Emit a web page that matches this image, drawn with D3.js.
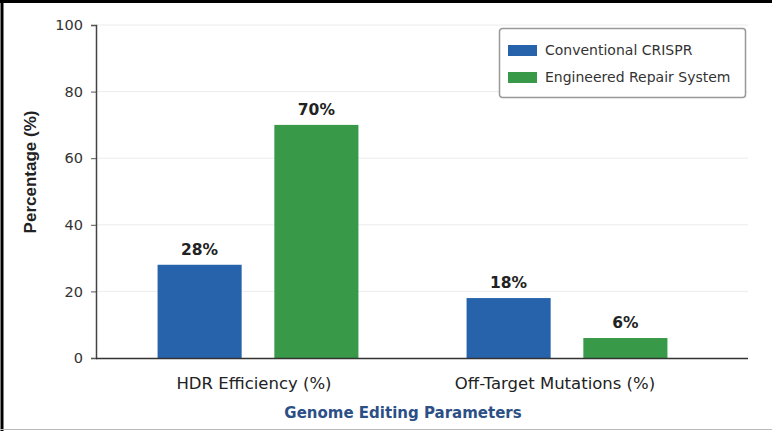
<!DOCTYPE html>
<html>
<head>
<meta charset="utf-8">
<script src="https://cdn.jsdelivr.net/npm/d3@7"></script>
<style>
  body { margin: 0; background: #fff; }
  svg { display: block; font-family: "DejaVu Sans", sans-serif; }
</style>
</head>
<body>
<script>
// data
var categories = ["HDR Efficiency (%)", "Off-Target Mutations (%)"];
var seriesNames = ["Conventional CRISPR", "Engineered Repair System"];
var conventional = [28, 18];
var engineered = [70, 6];
var yTicks = [0, 20, 40, 60, 80, 100];
var colors = ["#2763ab", "#389a48"];

var width = 772, height = 431;
var svg = d3.select("body").append("svg")
    .attr("width", width)
    .attr("height", height);

// frame: black top + left, thin grey bottom
svg.append("line").attr("x1", 0).attr("x2", width).attr("y1", 1.5).attr("y2", 1.5)
    .attr("stroke", "#000").attr("stroke-width", 3);
svg.append("line").attr("x1", 2).attr("x2", 2).attr("y1", 0).attr("y2", height)
    .attr("stroke", "#000").attr("stroke-width", 3);
svg.append("line").attr("x1", 0).attr("x2", width).attr("y1", 429.5).attr("y2", 429.5)
    .attr("stroke", "#bbb").attr("stroke-width", 1);

// plot area (window.top is reserved, so use other names)
var plotL = 96, plotR = 748, plotT = 25, plotB = 358;

var y = d3.scaleLinear().domain([0, 100]).range([plotB, plotT]);
var x0 = d3.scaleBand().domain(categories).range([103.5, 721.5])
    .paddingInner(0.35).paddingOuter(0.175);
var x1 = d3.scaleBand().domain(seriesNames).range([0, x0.bandwidth()])
    .paddingInner(0.28);

// grid
svg.append("g").selectAll("line").data(yTicks.filter(function(d) { return d > 0 }))
  .enter().append("line")
    .attr("x1", plotL).attr("x2", plotR)
    .attr("y1", function(d) { return y(d) }).attr("y2", function(d) { return y(d) })
    .attr("stroke", "#ececec").attr("stroke-width", 1);

// y axis
var yAxis = svg.append("g")
    .attr("transform", "translate(" + plotL + ",0)")
    .call(d3.axisLeft(y).tickValues(yTicks).tickSize(5).tickPadding(8));
yAxis.select(".domain").attr("stroke", "#444").attr("stroke-width", 1.5);
yAxis.selectAll(".tick line").attr("stroke", "#555");
yAxis.selectAll(".tick text").attr("fill", "#333").style("font-size", "14.5px")
    .style("font-family", "'DejaVu Sans', sans-serif");

// bars
var rows = categories.map(function(c, i) {
  return { cat: c, vals: [conventional[i], engineered[i]] };
});
var groups = svg.append("g").selectAll("g").data(rows).enter().append("g")
    .attr("transform", function(d) { return "translate(" + x0(d.cat) + ",0)" });

groups.selectAll("rect")
  .data(function(d) { return d.vals.map(function(v, j) { return { s: seriesNames[j], v: v, j: j } }) })
  .enter().append("rect")
    .attr("x", function(d) { return x1(d.s) })
    .attr("y", function(d) { return y(d.v) })
    .attr("width", x1.bandwidth())
    .attr("height", function(d) { return plotB - y(d.v) })
    .attr("fill", function(d) { return colors[d.j] });

groups.selectAll("text.val")
  .data(function(d) { return d.vals.map(function(v, j) { return { s: seriesNames[j], v: v } }) })
  .enter().append("text")
    .attr("class", "val")
    .attr("x", function(d) { return x1(d.s) + x1.bandwidth() / 2 })
    .attr("y", function(d) { return y(d.v) - 10 })
    .attr("text-anchor", "middle")
    .attr("fill", "#222")
    .style("font-size", "15.5px").style("font-weight", "bold")
    .text(function(d) { return d.v + "%" });

// x axis line
svg.append("line").attr("x1", plotL).attr("x2", plotR)
    .attr("y1", plotB + 0.5).attr("y2", plotB + 0.5)
    .attr("stroke", "#333").attr("stroke-width", 1.5);

// category labels
var catOffset = [-4, -12];
svg.append("g").selectAll("text").data(categories).enter().append("text")
    .attr("x", function(d, i) { return x0(d) + x0.bandwidth() / 2 + catOffset[i] })
    .attr("y", 389)
    .attr("text-anchor", "middle")
    .attr("fill", "#222")
    .style("font-size", "16.5px")
    .text(function(d) { return d });

// axis titles
svg.append("text")
    .attr("x", 403).attr("y", 418)
    .attr("text-anchor", "middle")
    .attr("fill", "#2c4f86")
    .style("font-size", "15px").style("font-weight", "bold")
    .text("Genome Editing Parameters");

svg.append("text")
    .attr("transform", "translate(36,172) rotate(-90)")
    .attr("text-anchor", "middle")
    .attr("fill", "#222")
    .style("font-family", "'Liberation Sans', Arial, sans-serif")
    .style("font-size", "17px").style("font-weight", "bold")
    .text("Percentage (%)");

// legend
var legend = svg.append("g").attr("transform", "translate(499,28)");
legend.append("rect")
    .attr("x", 0.5).attr("y", 0.5).attr("width", 246).attr("height", 69)
    .attr("rx", 3)
    .attr("fill", "#fff").attr("stroke", "#999").attr("stroke-width", 1.5);
var li = legend.selectAll("g.item").data(seriesNames).enter().append("g")
    .attr("class", "item")
    .attr("transform", function(d, i) { return "translate(9," + (17 + i * 27) + ")" });
li.append("rect").attr("width", 29).attr("height", 11)
    .attr("fill", function(d, i) { return colors[i] });
li.append("text").attr("x", 37).attr("y", 10)
    .attr("fill", "#333")
    .style("font-size", "14px")
    .text(function(d) { return d });
</script>
</body>
</html>
